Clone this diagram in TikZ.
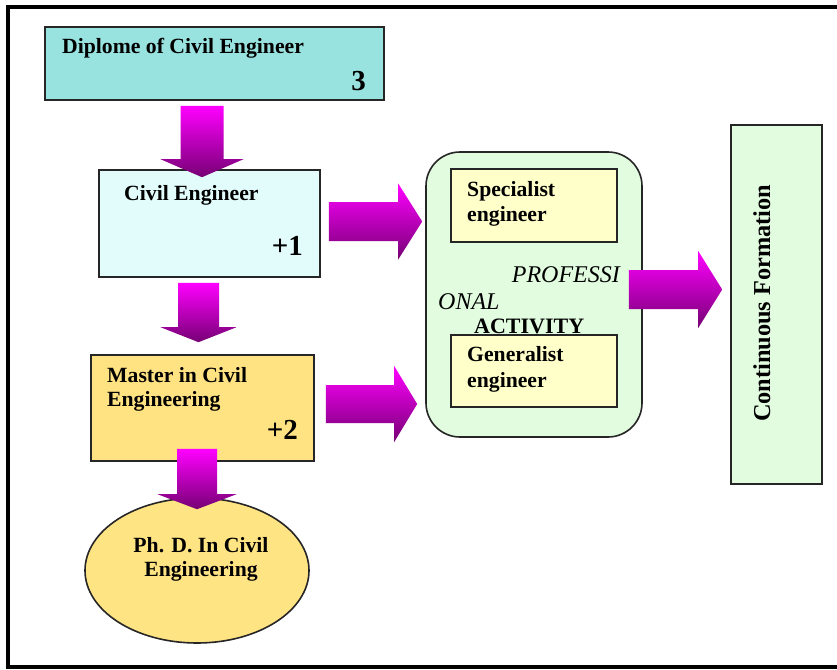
\documentclass[tikz,border=0pt]{standalone}
\usepackage{fontspec}
\setmainfont{Liberation Serif}
\usetikzlibrary{calc,shapes.geometric}

\definecolor{arrtop}{RGB}{255,0,255}
\definecolor{arrbot}{RGB}{118,0,116}
\definecolor{dipfill}{RGB}{152,226,224}
\definecolor{civfill}{RGB}{226,252,252}
\definecolor{masfill}{RGB}{255,226,130}
\definecolor{phdfill}{RGB}{255,228,132}
\definecolor{engfill}{RGB}{255,255,202}
\definecolor{actfill}{RGB}{226,252,224}

% downward block arrow: start, tip, shaft half width, head half width, head length
\newcommand\downblock[5]{%
  \shade[top color=arrtop,bottom color=arrbot]
    let \p1=(#1), \p2=(#2) in
    (\x1-#3,\y1) -- (\x1+#3,\y1) -- (\x1+#3,\y2+#5) -- (\x1+#4,\y2+#5)
    -- (\x1,\y2) -- (\x1-#4,\y2+#5) -- (\x1-#3,\y2+#5) -- cycle;}
% rightward block arrow: start, tip, shaft half width, head half width, head length
\newcommand\rightblock[5]{%
  \shade[top color=arrtop,bottom color=arrbot]
    let \p1=(#1), \p2=(#2) in
    (\x1,\y1+#3) -- (\x2-#5,\y1+#3) -- (\x2-#5,\y1+#4) -- (\x2,\y1)
    -- (\x2-#5,\y1-#4) -- (\x2-#5,\y1-#3) -- (\x1,\y1-#3) -- cycle;}

\tikzset{
  box/.style={draw=black!85, line width=1.6pt, inner sep=0pt},
  lbl/.style={inner sep=0pt, font=\bfseries\fontsize{21.7}{25}\selectfont},
  big/.style={inner sep=0pt, font=\bfseries\fontsize{29}{32}\selectfont},
  itl/.style={inner sep=0pt, font=\itshape\fontsize{24}{26}\selectfont},
}

\begin{document}
\begin{tikzpicture}[x=1pt,y=-1pt]
\useasboundingbox (0,0) rectangle (837,669);
\fill[white] (0,0) rectangle (837,669);

% outer frame
\draw[line width=4pt] (7.5,7.5) rectangle (860,666.5);

% study path
\node[box, fill=dipfill, minimum width=339pt, minimum height=73pt] (dip) at (214.5,63.5) {};
\node[lbl, anchor=base west] (dipT) at (62,53) {Diplome of Civil Engineer};
\node[big, anchor=base east] (dipN) at (366,90) {3};

\node[box, fill=civfill, minimum width=221pt, minimum height=107pt] (civ) at (209.5,223.5) {};
\node[lbl, anchor=base west] (civT) at (124,200) {Civil Engineer};
\node[big, anchor=base east] (civN) at (303,255) {+1};

\node[box, fill=masfill, minimum width=223pt, minimum height=106pt] (mas) at (202.5,408) {};
\node[lbl, anchor=base west] (masT1) at (107,382.5) {Master in Civil};
\node[lbl, anchor=base west] (masT2) at (107,406.5) {Engineering};
\node[big, anchor=base east] (masN) at (298,439) {+2};

\node[box, ellipse, fill=phdfill, minimum width=224pt, minimum height=145pt] (phd) at (197,570.5) {};
\node[lbl, anchor=base] (phdT1) at (201,552) {Ph. D. In Civil};
\node[lbl, anchor=base] (phdT2) at (201,576) {Engineering};

% professional activity
\node[box, fill=actfill, rounded corners=34pt, minimum width=216pt, minimum height=285pt] (act) at (534,294.5) {};
\node[box, fill=engfill, minimum width=166pt, minimum height=73pt] (spe) at (534,205.5) {};
\node[lbl, anchor=base west] (speT1) at (467,196) {Specialist};
\node[lbl, anchor=base west] (speT2) at (467,221) {engineer};
\node[itl, anchor=base east] (actT1) at (620,282) {PROFESSI};
\node[itl, anchor=base west] (actT2) at (438,309) {ONAL};
\node[lbl, font=\bfseries\fontsize{22}{24}\selectfont, anchor=base west] (actT3) at (474,333) {ACTIVITY};
\node[box, fill=engfill, minimum width=166pt, minimum height=72pt] (gen) at (534,371) {};
\node[lbl, anchor=base west] (genT1) at (467,361) {Generalist};
\node[lbl, anchor=base west] (genT2) at (467,387) {engineer};

% continuous formation
\node[box, fill=actfill, minimum width=91pt, minimum height=359pt] (cont) at (776.5,304.5) {};
\node[inner sep=0pt, font=\bfseries\fontsize{24.3}{26}\selectfont, rotate=90, anchor=base] (contT) at (770,303.5) {Continuous Formation};

% block arrows
\coordinate (a1s) at ($(dip.south)+(-12.5,5)$);
\coordinate (a1t) at ($(civ.north)+(-7.5,8)$);
\coordinate (a2s) at ($(civ.south)+(-11,5)$);
\coordinate (a2t) at ($(mas.north)+(-4,-12)$);
\coordinate (a3s) at ($(mas.south)+(-5.5,-13)$);
\coordinate (a3t) at ($(phd.north)+(0,12)$);
\coordinate (r1s) at ($(civ.east)+(8,-2)$);
\coordinate (r1t) at ($(act.west)+(-3,-73)$);
\coordinate (r2s) at ($(mas.east)+(11,-4)$);
\coordinate (r2t) at ($(act.west)+(-8,109.5)$);
\coordinate (r3s) at ($(act.east)+(-14,-5)$);
\coordinate (r3t) at ($(cont.west)+(-8,-15)$);

\downblock{a1s}{a1t}{21.5pt}{41.5pt}{18pt}
\downblock{a2s}{a2t}{20.5pt}{38pt}{15pt}
\downblock{a3s}{a3t}{20pt}{39.5pt}{15pt}
\rightblock{r1s}{r1t}{19.5pt}{38pt}{24pt}
\rightblock{r2s}{r2t}{19pt}{38pt}{23pt}
\rightblock{r3s}{r3t}{19.5pt}{38.5pt}{24pt}
\end{tikzpicture}
\end{document}
